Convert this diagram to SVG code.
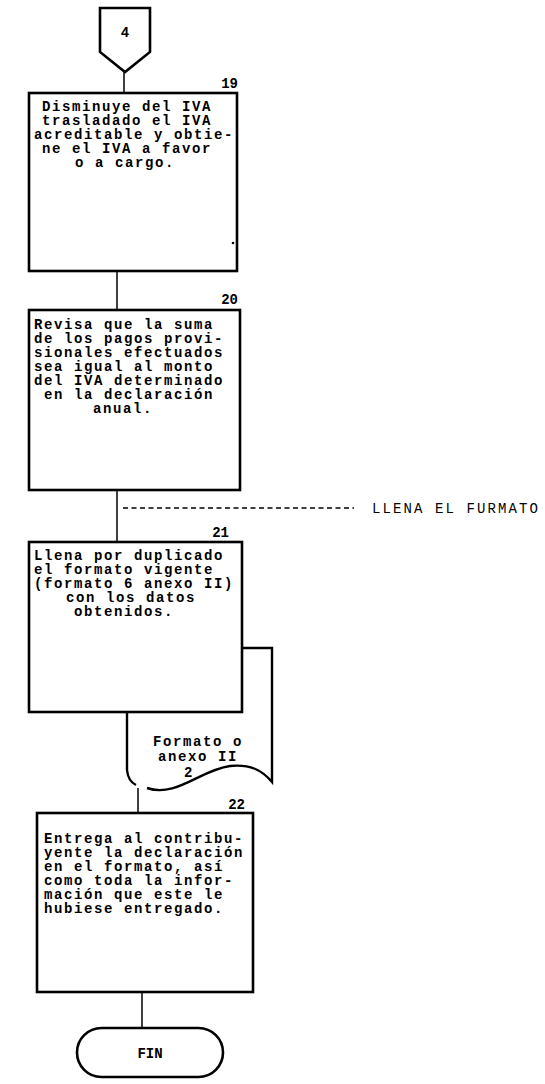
<svg xmlns="http://www.w3.org/2000/svg" width="545" height="1084" viewBox="0 0 545 1084">
<style>
.box{fill:#fff;stroke:#000;stroke-width:2.6}
.ln{fill:none;stroke:#000;stroke-width:1.5}
.t{font-family:"Liberation Mono","DejaVu Sans Mono",monospace;font-size:14px;font-weight:bold;letter-spacing:1.6px;fill:#000}
.n{font-family:"Liberation Mono","DejaVu Sans Mono",monospace;font-size:14px;font-weight:bold;fill:#000}
.lbl{font-family:"Liberation Mono","DejaVu Sans Mono",monospace;font-size:14px;letter-spacing:2.1px;fill:#000}
</style>
<rect width="545" height="1084" fill="#fff"/>
<g id="connectors">
<line class="ln" x1="124" y1="72" x2="124" y2="93"/>
<line class="ln" x1="117" y1="271" x2="117" y2="310"/>
<line class="ln" x1="117" y1="490" x2="117" y2="542"/>
<line class="ln" x1="123" y1="508" x2="354" y2="508" stroke-dasharray="5 3.5"/>
<line class="ln" x1="138" y1="788" x2="138" y2="813"/>
<line class="ln" x1="142" y1="992" x2="142" y2="1028"/>
</g>
<g id="c4">
<path class="box" d="M100,8 H150 V52 L125,72 L100,52 Z"/>
<text class="n" x="125" y="37" text-anchor="middle">4</text>
</g>
<g id="n19">
<rect class="box" x="29" y="93" width="208" height="178"/>
<text class="n" x="238" y="88" text-anchor="end">19</text>
<text class="t" x="42" y="111">Disminuye del IVA</text>
<text class="t" x="42" y="125">trasladado el IVA</text>
<text class="t" x="34" y="139">acreditable y obtie-</text>
<text class="t" x="42" y="153">ne el IVA a favor</text>
<text class="t" x="75" y="167">o a cargo.</text>
<circle cx="233" cy="243" r="1.3" fill="#000"/>
</g>
<g id="n20">
<rect class="box" x="29" y="310" width="211" height="180"/>
<text class="n" x="238" y="304" text-anchor="end">20</text>
<text class="t" x="34" y="329">Revisa que la suma</text>
<text class="t" x="34" y="343">de los pagos provi-</text>
<text class="t" x="34" y="357">sionales efectuados</text>
<text class="t" x="34" y="371">sea igual al monto</text>
<text class="t" x="34" y="385">del IVA determinado</text>
<text class="t" x="44" y="399">en la declaración</text>
<text class="t" x="93" y="413">anual.</text>
</g>
<g id="note">
<text class="lbl" x="372" y="513">LLENA EL FURMATO</text>
</g>
<g id="doc">
<path class="ln" style="stroke-width:2.4" d="M242,648 H272 V782 C262,770 250,764 230,766 C200,770 176,798 147,788"/>
<path class="ln" style="stroke-width:2.4" d="M127,712 V770 Q128,781 136,785"/>
<text class="t" x="153" y="746">Formato o</text>
<text class="t" x="158" y="761">anexo II</text>
<text class="t" x="184" y="777">2</text>
</g>
<g id="n21">
<rect class="box" x="29" y="542" width="213" height="170"/>
<text class="n" x="229" y="537" text-anchor="end">21</text>
<text class="t" x="34" y="560">Llena por duplicado</text>
<text class="t" x="34" y="574">el formato vigente</text>
<text class="t" x="34" y="588">(formato 6 anexo II)</text>
<text class="t" x="66" y="602">con los datos</text>
<text class="t" x="74" y="616">obtenidos.</text>
</g>
<g id="n22">
<rect class="box" x="37" y="813" width="216" height="179"/>
<text class="n" x="245" y="809" text-anchor="end">22</text>
<text class="t" x="44" y="843">Entrega al contribu-</text>
<text class="t" x="44" y="857">yente la declaración</text>
<text class="t" x="44" y="871">en el formato, así</text>
<text class="t" x="44" y="885">como toda la infor-</text>
<text class="t" x="44" y="899">mación que este le</text>
<text class="t" x="44" y="913">hubiese entregado.</text>
</g>
<g id="fin">
<rect class="box" x="77" y="1028" width="146" height="49" rx="24.5"/>
<text class="n" x="150" y="1058" text-anchor="middle">FIN</text>
</g>
</svg>
